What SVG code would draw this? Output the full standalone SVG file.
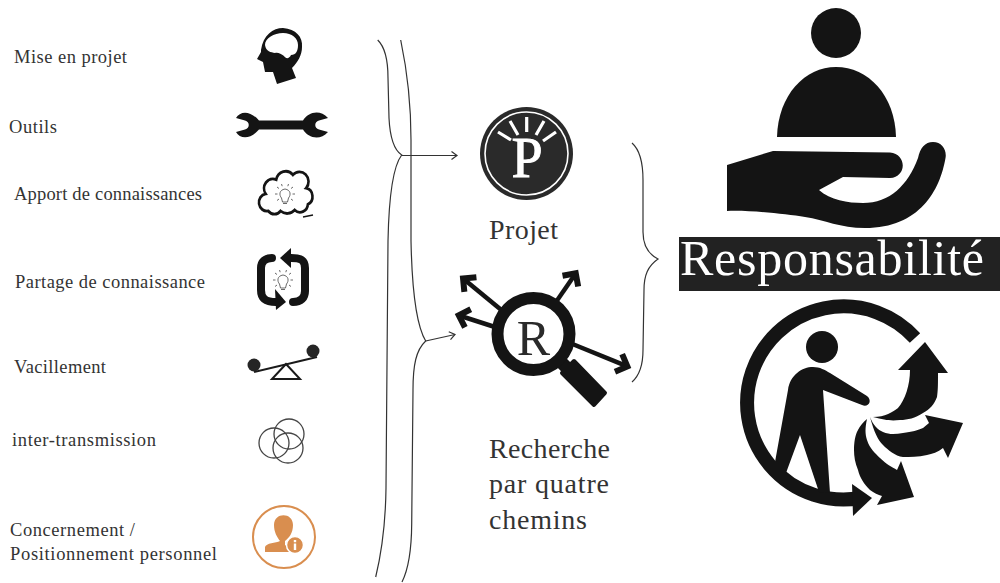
<svg xmlns="http://www.w3.org/2000/svg" xmlns:xlink="http://www.w3.org/1999/xlink" width="1000" height="583" viewBox="0 0 1000 583">
<style>
.l{font-family:"Liberation Serif","Times New Roman",serif;font-size:18.5px;fill:#333}
.b{font-family:"Liberation Serif","Times New Roman",serif;font-size:28px;fill:#333}
.k{fill:#141414}
.c{fill:none;stroke:#333;stroke-width:1.2}
.t{fill:none;stroke:#141414;stroke-width:8;stroke-linecap:round}
.g{stroke:#141414;stroke-width:4.500;fill:none}
.o{fill:none;stroke:#444;stroke-width:1.3}
</style>
<defs>
<marker id="open" markerUnits="userSpaceOnUse" markerWidth="12" markerHeight="12" refX="7" refY="6" orient="auto"><path d="M1.500 2L7 6L1.500 10" fill="none" stroke="#333" stroke-width="1.200"/></marker>
<marker id="fat" markerUnits="userSpaceOnUse" markerWidth="28" markerHeight="28" refX="16.500" refY="12" orient="auto"><path d="M9 2.500L18.500 12L9 21.500" fill="none" stroke="#141414" stroke-width="6"/></marker>
<g id="bulb"><path d="M-3.500 3C-6 0-6-5 0-6C6-5 6 0 3.500 3L2.500 7H-2.500Z" fill="#fff" stroke="#444" stroke-width=".8"/><path d="M-2 8.500H2M-10-1H-7.500M10-1H7.500M-8-8L-6-6.500M8-8L6-6.500M-3.500-11L-2.800-8.800M3.500-11L2.800-8.800M-8 5.500L-6 4M8 5.500L6 4" stroke="#444" stroke-width=".8" fill="none"/></g>
</defs>
<rect width="1000" height="583" fill="#fff"/>

<g id="connectors">
<path class="c" d="M377.700 40C385 47 388 58 388 78L389 118C390 138 394 150 401.700 155C394 165 389 190 388 241L386 488C385.500 530 381 555 375.700 577"/>
<path class="c" d="M400.700 40C407 70 411 100 411 140L411 241C412 290 416 325 425.700 341C416 350 413 365 413 390L411.700 524C411.500 550 408 570 402 582"/>
<path class="c" marker-end="url(#open)" d="M401.700 155.500H457"/>
<path class="c" marker-end="url(#open)" d="M425.700 341L455 334.500"/>
<path class="c" d="M632 143C640 150 643 162 643 180L643 232C643 245 648 254 658 259C648 266 644 275 644 290L643 350C643 365 640 375 632 382"/>
</g>

<g id="label-mise"><text class="l" x="14" y="63" textLength="113">Mise en projet</text>
<path class="k" fill-rule="evenodd" d="M261 50C263 35 273 28 283 28C296 29 303 37 302 47C302 55 298 62 292 68L296 78L277 84L273 72L265 72L263 62L257 59L261 52ZM265 45C265 38 274 33 283 33C292 33 298 38 298 45C298 51 296 55 291 55C289 59 286 59 284 56C281 54 278 52 275 53C271 52 266 52 265 45Z"/></g>

<g id="label-outils"><text class="l" x="9" y="133" textLength="48">Outils</text>
<path class="k" d="M236 118C240 111 250 110 259 120.500H303C308 112 320 109 328 118L319 120.500C314 122 314 128 319 129.500L328 132C320 141 308 138 303 129.500H259C250 140 240 139 236 132L245 129.500C250 128 250 122 245 120.500Z"/></g>

<g id="label-apport"><text class="l" x="14" y="200" textLength="188">Apport de connaissances</text>
<path fill="#fff" stroke="#141414" stroke-width="3" transform="translate(285 192) scale(.88 .95) translate(-285 -192)" d="M266 212A9 9 0 0 1 263 194A10 10 0 0 1 275 179A11 11 0 0 1 294 174A10 10 0 0 1 309 188A9 9 0 0 1 311 205A9 9 0 0 1 296 211A12 12 0 0 1 280 212A9 9 0 0 1 266 212Z"/>
<use xlink:href="#bulb" href="#bulb" transform="translate(285 195)"/>
<path d="M303 217L313 215" stroke="#141414" stroke-width="1.500"/></g>

<g id="label-partage"><text class="l" x="15" y="288" textLength="190">Partage de connaissance</text>
<path class="t" d="M272 258C265 258 261 262 261 268V290C261 298 265 302 276 302"/>
<path class="k" d="M286 302L275 289L276 310Z"/>
<path class="t" d="M293 302C301 302 305 298 305 291V268C305 260 301 258 291 258"/>
<path class="k" d="M280 258L291 248V268Z"/>
<use xlink:href="#bulb" href="#bulb" transform="translate(283 281)"/></g>

<g id="label-vacillement"><text class="l" x="14" y="373" textLength="92">Vacillement</text>
<path d="M254 372L317 357" stroke="#1a1a1a" stroke-width="2"/><circle cx="254" cy="365" r="6.500" fill="#252525"/><circle cx="313" cy="351" r="6.500" fill="#252525"/>
<path d="M286 364L272 379H300Z" fill="none" stroke="#1a1a1a" stroke-width="2"/></g>

<g id="label-inter"><text class="l" x="12" y="446" textLength="144">inter-transmission</text>
<circle class="o" cx="274" cy="443" r="15"/><circle class="o" cx="289" cy="434" r="15"/><circle class="o" cx="288" cy="448" r="15"/></g>

<g id="label-concernement"><text class="l" x="10" y="536" textLength="125">Concernement /</text><text class="l" x="10" y="560" textLength="207">Positionnement personnel</text>
<circle cx="284" cy="537" r="31" fill="none" stroke="#d98e4f" stroke-width="2"/>
<path fill="#d98e4f" d="M274 525C274 512 293 512 293 525C293 533 289 538 285 541V545L293 549V552H265V547C266 543 276 543 280 541C277 537 274 532 274 525Z"/>
<circle cx="295" cy="545" r="8.500" fill="#d98e4f" stroke="#fff" stroke-width="1.500"/>
<path d="M293.800 543.500H296.200V550H293.800ZM293.800 540H296.200V542.200H293.800Z" fill="#fff"/></g>

<g id="projet">
<circle cx="526.500" cy="153.500" r="46.500" fill="#2a2a2a"/>
<circle cx="526.500" cy="153.500" r="41.500" fill="none" stroke="#fff" stroke-width="1.600"/>
<path d="M526.700 117V132M510 121L518 135M544 121L536 135M498 132L511 140M556 132L543 141" stroke="#fff" stroke-width="3.200"/>
<text x="527" y="177" text-anchor="middle" font-family="Liberation Serif, serif" font-size="56" fill="#fff" stroke="#fff" stroke-width=".9">P</text>
<text class="b" x="489" y="239" textLength="69">Projet</text>
</g>

<g id="recherche">
<path class="g" marker-end="url(#fat)" d="M505 313L464.600 279.800"/>
<path class="g" marker-end="url(#fat)" d="M498 328L460.700 316"/>
<path class="g" marker-end="url(#fat)" d="M556 302L574.600 275"/>
<path class="g" marker-end="url(#fat)" d="M570 343L625.500 365.700"/>
<path d="M558 359L572 373" stroke="#141414" stroke-width="13" fill="none"/>
<path class="k" stroke="#141414" stroke-width="4" stroke-linejoin="round" d="M574 361L605 393L594 405L562 373Z"/>
<circle cx="533.500" cy="334" r="36" fill="#fff" stroke="#141414" stroke-width="12"/>
<text x="533.500" y="355" text-anchor="middle" font-family="Liberation Serif, serif" font-size="50" fill="#2a2a2a">R</text>
<text class="b" x="489" y="458" textLength="121">Recherche</text>
<text class="b" x="489" y="493" textLength="120">par quatre</text>
<text class="b" x="489" y="529" textLength="98">chemins</text>
</g>

<g id="responsabilite">
<circle class="k" cx="836" cy="33" r="25"/>
<path class="k" d="M777 137C778 95 805 67 836 67C868 67 895 95 896 137Z"/>
<path class="k" d="M727 165L773 151L890 152.500C907 154 907 177 890 178L843 177L819 190C830 200 848 203 863 203C890 203 908 185 918 158C920 148 925 142 933 142C942 142 947 150 945.500 158C940 190 920 228 865 228C840 228 825 220 805 217C785 214 750 210 727 211Z"/>
<rect x="679" y="237" width="321" height="54" fill="#222"/>
<text x="680" y="275" font-family="Liberation Serif, serif" font-size="50" fill="#fff" textLength="304">Responsabilité</text>
</g>

<g id="triman">
<path fill="none" stroke="#141414" stroke-width="14" d="M915 338A96.500 96.500 0 1 0 860 498"/>
<path class="k" d="M852 484L872 498L853 516Z"/>
<circle class="k" cx="822" cy="347" r="16"/>
<path class="k" d="M775 462L788 390C790 375 802 367 813 367C820 367 825 370 830 373L867 396C873 401 868 408 862 405L823 390L830 493L819 492L800 435L786 473Z"/>
<path class="k" d="M873 417C885 417 893 412 898 408C905 400 910 385 910 370L898 370L925 342L948 373L938 373C938 385 938 390 937 397C934 405 930 409 923 413C915 418 908 420 900 420C890 421 885 420 873 417Z"/>
<path class="k" d="M870 417C873 425 878 430 883 432C890 435 896 434 903 433C912 432 918 430 923 428L929 423L925 415L963 423L948 458L943 448C938 452 932 454 927 455C918 457 910 457 903 457C895 456 888 450 883 445C878 440 874 432 870 417Z"/>
<path class="k" d="M867 419C865 428 865 434 867 440C870 449 875 453 880 458C886 464 892 467 897 470L901 461L914 497L877 505L882 496C878 495 874 493 870 490C864 484 860 478 858 470C855 463 854 456 854 450C854 443 855 435 858 430C860 426 863 422 867 419Z"/>
</g>
</svg>
